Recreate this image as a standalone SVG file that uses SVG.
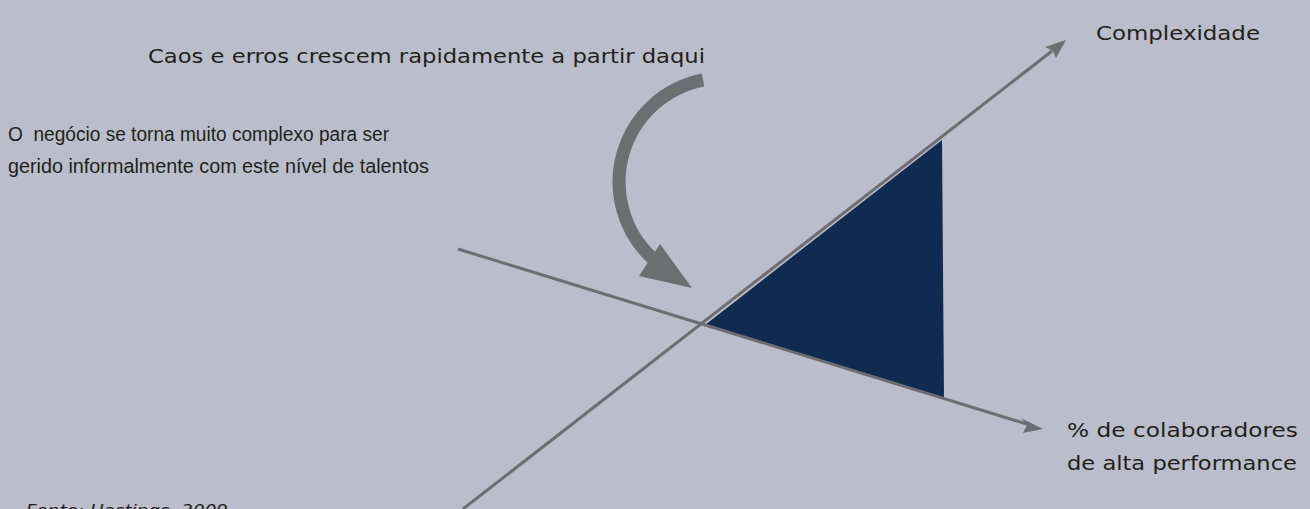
<svg xmlns="http://www.w3.org/2000/svg" width="1310" height="509" viewBox="0 0 1310 509">
  <defs>
    <style>
      .t { font-family: "DejaVu Sans", "Liberation Sans", sans-serif; font-size: 20px; fill: #231f20; }
      .s { font-family: "Liberation Sans", "DejaVu Sans", sans-serif; font-size: 20px; }
      .src { font-family: "DejaVu Sans", "Liberation Sans", sans-serif; font-size: 15px; font-style: italic; fill: #231f20; }
      .axis { stroke: #6d6e71; stroke-width: 3; fill: none; }
      .head { fill: #6d6e71; }
    </style>
  </defs>
  <rect x="0" y="0" width="1310" height="509" fill="#bbbdca"/>

  <g id="area">
    <polygon points="705,325 942,140 944,399" fill="#0f2b50"/>
  </g>

  <g id="connectors">
    <line class="axis" x1="463" y1="509" x2="1052" y2="51"/>
    <polygon class="head" points="1066,40 1056,58 1053,51 1045,47"/>
    <line class="axis" x1="458" y1="249" x2="1030" y2="425"/>
    <polygon class="head" points="1043,429 1023,433 1027,425 1021,418"/>
    <path d="M703,80 A104,104 0 0 0 652,258" stroke="#6d6e71" stroke-width="13" fill="none"/>
    <polygon class="head" points="692,288 639,276 660,244"/>
  </g>

  <g id="label-caos">
    <text class="t" x="148" y="63" textLength="557" lengthAdjust="spacingAndGlyphs">Caos e erros crescem rapidamente a partir daqui</text>
  </g>
  <g id="label-complexidade">
    <text class="t" x="1096" y="40" textLength="164" lengthAdjust="spacingAndGlyphs">Complexidade</text>
  </g>
  <g id="label-negocio">
    <text class="t s" x="8" y="141" textLength="381" lengthAdjust="spacingAndGlyphs" xml:space="preserve">O  negócio se torna muito complexo para ser</text>
    <text class="t s" x="8" y="173" textLength="421" lengthAdjust="spacingAndGlyphs">gerido informalmente com este nível de talentos</text>
  </g>
  <g id="label-colaboradores">
    <text class="t" x="1067" y="437" textLength="231" lengthAdjust="spacingAndGlyphs">% de colaboradores</text>
    <text class="t" x="1067" y="470" textLength="230" lengthAdjust="spacingAndGlyphs">de alta performance</text>
  </g>
  <g id="source">
    <text class="src" x="26" y="516" textLength="202" lengthAdjust="spacingAndGlyphs">Fonte: Hastings, 2009</text>
  </g>
</svg>
